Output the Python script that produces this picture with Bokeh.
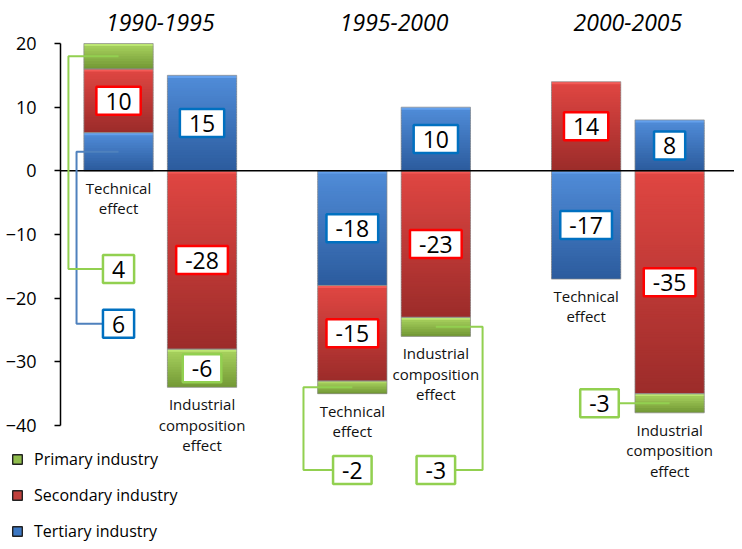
import numpy as np
from bokeh.plotting import figure
from bokeh.models import ColumnDataSource, Legend, LegendItem, FixedTicker, Range1d
from bokeh.core.properties import value
from bokeh.embed import file_html
from bokeh.resources import INLINE

# ---------------- data ----------------
periods = ["1990-1995", "1995-2000", "2000-2005"]
effects = ["Technical\neffect", "Industrial\ncomposition\neffect"]
series_names = ["Primary industry", "Secondary industry", "Tertiary industry"]
# bars: for each period, technical effect then industrial composition effect
primary = [4, -6, -2, -3, 0, -3]
secondary = [10, -28, -15, -23, 14, -35]
tertiary = [6, 15, -18, 10, -17, 8]
y_ticks = [-40, -30, -20, -10, 0, 10, 20]

# ---------------- styling ----------------
FONT = "Open Sans"
TOP = {0: (168, 210, 94), 1: (224, 70, 66), 2: (80, 140, 216)}
BOT = {0: (116, 154, 54), 1: (156, 44, 42), 2: (44, 92, 158)}
MID = {0: "#8fbc4c", 1: "#c0403c", 2: "#3d78c4"}
BORDER = {0: "#92d050", 1: "#ff0000", 2: "#0070c0"}
LINEC = {0: "#92d050", 2: "#4f81bd"}
GROUP_STEP = 2.8
BAR_W = 0.83
AXIS_X = -0.695
X0, X1 = -1.4136, 7.377
Y0, Y1 = -58.21, 26.754

def hexc(c):
    return "#%02x%02x%02x" % tuple(int(round(v)) for v in c)

bar_x = [g * GROUP_STEP + e for g in range(len(periods)) for e in range(len(effects))]
series_vals = {0: primary, 1: secondary, 2: tertiary}

# stack: tertiary first, then secondary, then primary, separately per sign
segs = []
bar_bottom = []
for b in range(len(bar_x)):
    pos, neg = 0.0, 0.0
    for s in (2, 1, 0):
        v = series_vals[s][b]
        if v > 0:
            lo, hi = pos, pos + v
            pos += v
        elif v < 0:
            lo, hi = neg + v, neg
            neg += v
        else:
            continue
        segs.append(dict(s=s, b=b, lo=lo, hi=hi, v=v))
    bar_bottom.append(min(neg, 0.0))

p = figure(width=734, height=541, output_backend="svg", toolbar_location=None,
           x_axis_type=None, x_range=Range1d(X0, X1), y_range=Range1d(Y0, Y1),
           min_border_left=0, min_border_right=0, min_border_top=0, min_border_bottom=0,
           background_fill_color="white", border_fill_color="white")
p.outline_line_color = None
p.ygrid.grid_line_color = None

# legend proxies (zero-size, hidden beneath the bars; only their styling is used by the legend)
legend_renderers = {}
for s in (0, 1, 2):
    sg = next(g for g in segs if g["s"] == s)
    legend_renderers[s] = p.rect(x=[bar_x[sg["b"]]], y=[(sg["lo"] + sg["hi"]) / 2], width=0, height=0,
                                 fill_color=MID[s], line_color="#222222", line_width=1.4)

# gradient strips (each overlaps the next slightly so no seams show)
gl, gr, gt, gb, gc = [], [], [], [], []
for sg in segs:
    n = max(8, int(abs(sg["v"]) * 2.5))
    edges = np.linspace(sg["hi"], sg["lo"], n + 1)
    for k in range(n):
        t = k / (n - 1)
        c = tuple(TOP[sg["s"]][i] * (1 - t) + BOT[sg["s"]][i] * t for i in range(3))
        if k == 0:
            c = tuple(min(255, ci + 20) for ci in c)
        bot = edges[k + 1] - (0.25 if k < n - 1 else 0.0)
        gl.append(bar_x[sg["b"]] - BAR_W / 2)
        gr.append(bar_x[sg["b"]] + BAR_W / 2)
        gt.append(edges[k])
        gb.append(max(bot, sg["lo"]))
        gc.append(hexc(c))
p.quad(left=gl, right=gr, top=gt, bottom=gb, fill_color=gc, line_color=None)

# segment outlines
p.quad(left=[bar_x[s["b"]] - BAR_W / 2 for s in segs], right=[bar_x[s["b"]] + BAR_W / 2 for s in segs],
       top=[s["hi"] for s in segs], bottom=[s["lo"] for s in segs],
       fill_color=None, line_color="#8a8a8a", line_alpha=0.7, line_width=1)

# zero line (category axis line)
p.segment(x0=[AXIS_X], x1=[X1], y0=[0], y1=[0], line_color="black", line_width=1.5)

# callout layout (series, bar) -> box centre / elbow
callouts = {
    (0, 0): dict(cx=None, cy=-15.4, ex=-0.60),
    (2, 0): dict(cx=None, cy=-24.0, ex=-0.503),
    (0, 2): dict(cx=None, cy=-47.0, ex=2.215),
    (0, 3): dict(cx=None, cy=-47.0, ex=4.36),
    (0, 5): dict(cx=5.76, cy=None, ex=None),
}

lab_x, lab_y, lab_t, lab_b = [], [], [], []
for sg in segs:
    bx = bar_x[sg["b"]]
    mid = (sg["lo"] + sg["hi"]) / 2
    key = (sg["s"], sg["b"])
    if key in callouts:
        co = callouts[key]
        cx = bx if co["cx"] is None else co["cx"]
        cy = mid if co["cy"] is None else co["cy"]
        if co["ex"] is None:
            xs, ys = [bx, cx], [mid, cy]
        else:
            xs, ys = [bx, co["ex"], co["ex"], cx], [mid, mid, cy, cy]
        p.line(xs, ys, line_color=LINEC[sg["s"]], line_width=2)
    else:
        cx, cy = bx, mid
    lab_x.append(cx)
    lab_y.append(cy)
    lab_t.append("%d" % sg["v"])
    lab_b.append(BORDER[sg["s"]])

src = ColumnDataSource(dict(x=lab_x, y=lab_y, t=lab_t, bc=lab_b))
p.text(x="x", y="y", text="t", source=src, text_align="center", text_baseline="middle",
       text_font=value(FONT), text_font_size="23px", text_color="black",
       background_fill_color="white", border_line_color="bc", border_line_width=2.5,
       padding=dict(left=9, right=9, top=6, bottom=5))

# effect labels under bars
p.text(x=bar_x, y=bar_bottom, text=[effects[i % 2] for i in range(len(bar_x))],
       text_align="center", text_baseline="top", y_offset=7, line_height=1.02,
       text_font=value(FONT), text_font_size="15px", text_color="#111111")

# period titles
p.text(x=[g * GROUP_STEP + 0.5 for g in range(len(periods))], y=[23.3] * len(periods), text=periods,
       text_align="center", text_baseline="middle", text_font=value(FONT),
       text_font_size="23px", text_font_style="italic", text_color="black")

# y axis, drawn at a fixed x position inside the frame
ya = p.yaxis[0]
ya.fixed_location = AXIS_X
ya.ticker = FixedTicker(ticks=y_ticks)
ya.bounds = (min(y_ticks), max(y_ticks))
ya.axis_line_color = "black"
ya.axis_line_width = 1.5
ya.major_tick_line_color = "black"
ya.major_tick_line_width = 1.5
ya.major_tick_out = 6
ya.major_tick_in = 0
ya.minor_tick_line_color = None
ya.major_label_text_font = FONT
ya.major_label_text_font_size = "18px"
ya.major_label_text_color = "black"
ya.major_label_standoff = 18

# legend
items = [LegendItem(label=series_names[s], renderers=[legend_renderers[s]]) for s in (0, 1, 2)]
legend = Legend(items=items, location=(11, -1), orientation="vertical",
                glyph_width=12, glyph_height=12, label_height=20, spacing=14,
                label_standoff=11, padding=0, margin=0,
                label_text_font=FONT, label_text_font_size="16px", label_text_color="black",
                border_line_color=None, background_fill_alpha=0)
p.add_layout(legend, "center")

open("out.html", "w").write(file_html(p, INLINE))
